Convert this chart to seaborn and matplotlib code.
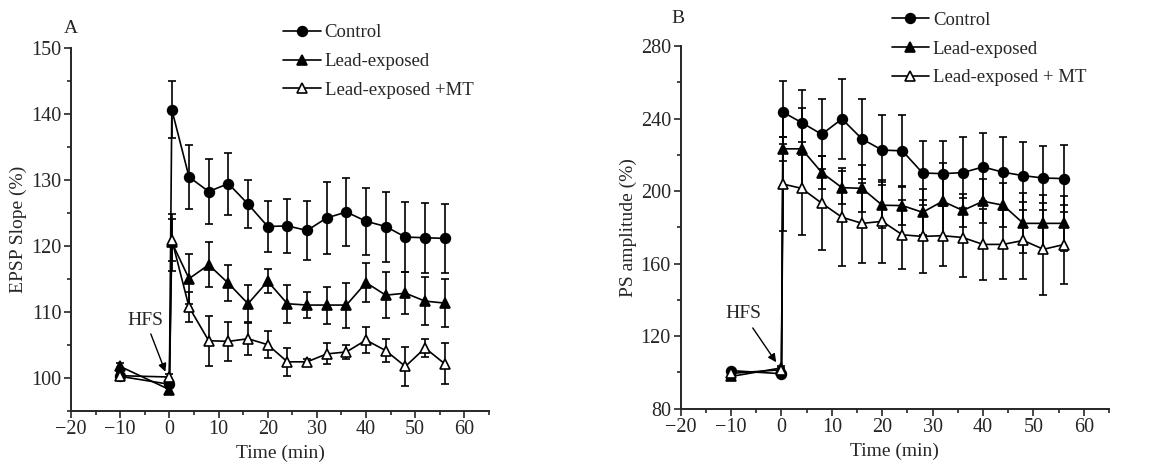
#import libraries
import numpy as np
import pandas as pd
import matplotlib
matplotlib.use("Agg")
import matplotlib.pyplot as plt
import seaborn as sns

#time points (min)
time_a = [-10, 0, 0.5, 4, 8, 12, 16, 20, 24, 28, 32, 36, 40, 44, 48, 52, 56]
time_b = [-10, 0, 0.3, 4, 8, 12, 16, 20, 24, 28, 32, 36, 40, 44, 48, 52, 56]

#panel A - EPSP slope (%)
ctrl_a = [100.2, 99.0, 140.6, 130.4, 128.2, 129.4, 126.3, 122.9, 123.0, 122.3, 124.2, 125.1, 123.7, 122.9, 121.3, 121.2, 121.1]
ctrl_a_err = [0.5, 0.5, 4.3, 4.8, 4.9, 4.7, 3.6, 3.8, 4.1, 4.4, 5.5, 5.2, 5.1, 5.3, 5.3, 5.3, 5.2]
lead_a = [101.7, 98.2, 120.5, 115.0, 117.1, 114.3, 111.2, 114.6, 111.2, 111.0, 111.0, 111.0, 114.4, 112.5, 112.8, 111.6, 111.3]
lead_a_err = [0.5, 0.5, 4.3, 3.8, 3.4, 2.7, 2.8, 1.8, 2.9, 2.0, 2.8, 3.4, 2.9, 3.5, 3.2, 3.6, 3.6]
mt_a = [100.3, 100.1, 120.9, 110.7, 105.6, 105.5, 105.9, 105.0, 102.4, 102.4, 103.6, 103.9, 105.7, 104.1, 101.7, 104.5, 102.1]
mt_a_err = [0.5, 0.5, 3.2, 2.3, 3.8, 2.9, 2.4, 2.0, 2.1, 0.5, 1.6, 1.0, 2.0, 1.7, 3.0, 1.4, 3.1]

#panel B - PS amplitude (%)
ctrl_b = [101.0, 99.3, 243.5, 237.8, 231.3, 239.8, 228.7, 222.6, 222.2, 210.0, 209.6, 210.2, 213.3, 210.4, 208.5, 207.2, 206.9]
ctrl_b_err = [1.0, 1.0, 17.4, 17.8, 19.3, 22.2, 21.9, 19.4, 19.8, 17.8, 18.0, 19.8, 18.6, 19.2, 18.7, 17.4, 18.5]
lead_b = [97.8, 102.5, 223.3, 223.3, 210.2, 201.9, 201.5, 192.2, 192.0, 188.3, 194.4, 189.3, 194.4, 192.2, 182.2, 182.2, 182.2]
lead_b_err = [1.0, 1.0, 6.7, 22.6, 9.2, 9.2, 13.0, 12.8, 10.8, 12.6, 21.3, 9.2, 12.0, 12.0, 16.5, 15.6, 15.0]
mt_b = [99.5, 101.5, 203.9, 201.5, 193.3, 185.6, 182.2, 183.3, 175.9, 175.0, 175.4, 174.4, 170.6, 170.6, 172.8, 167.9, 170.5]
mt_b_err = [1.0, 1.0, 25.8, 25.6, 26.0, 27.0, 22.0, 22.7, 19.0, 20.0, 16.7, 22.0, 19.4, 19.0, 21.4, 25.3, 21.9]

groups = ["Control", "Lead-exposed", "Lead-exposed +MT"]
groups_b = ["Control", "Lead-exposed", "Lead-exposed + MT"]

sns.set_style("ticks")
plt.rcParams['font.family'] = ['Liberation Serif', 'DejaVu Serif']

fig = plt.figure(figsize=(11.74, 4.67), dpi=100)
ax_a = fig.add_axes([0.0605, 0.1206, 0.356, 0.7774])
ax_b = fig.add_axes([0.5798, 0.1248, 0.3648, 0.7767])

styles = [dict(marker='o', mfc='black'),
          dict(marker='^', mfc='black'),
          dict(marker='^', mfc='white')]


def draw_panel(ax, t, series, errs, names, anchor):
    for vals, err, name, st in zip(series, errs, names, styles):
        d = pd.DataFrame({'time': t, 'value': vals})
        ax.errorbar(d['time'], d['value'], yerr=err, fmt='none', ecolor='black',
                    elinewidth=1.2, capsize=3, capthick=1.2, zorder=2)
        sns.lineplot(data=d, x='time', y='value', ax=ax, color='black', lw=1.2,
                     marker=st['marker'], markerfacecolor=st['mfc'],
                     markeredgecolor='black', markeredgewidth=1.2, markersize=7,
                     label=name, zorder=3, sort=False)
    ax.set_xlim(-20, 65)
    ax.set_xticks(range(-20, 61, 10))
    ax.set_xticks(range(-20, 66, 5), minor=True)
    ax.set_xticklabels(['\u221220', '\u221210', '0', '10', '20', '30', '40', '50', '60'])
    ax.set_xlabel('Time (min)', fontsize=14, labelpad=4)
    ax.tick_params(axis='both', which='major', labelsize=14.5, length=5, width=1.2,
                   direction='out', pad=2)
    ax.tick_params(axis='both', which='minor', length=3, width=1.2, direction='out')
    for s in ['left', 'bottom']:
        ax.spines[s].set_linewidth(1.4)
    sns.despine(ax=ax)
    ax.legend(loc='upper left', bbox_to_anchor=anchor, frameon=False,
              fontsize=13.5, handlelength=2.0, handletextpad=0.2,
              labelspacing=0.62, borderaxespad=0)


draw_panel(ax_a, time_a, [ctrl_a, lead_a, mt_a], [ctrl_a_err, lead_a_err, mt_a_err],
           groups, (0.49, 1.085))
ax_a.set_ylim(95, 150)
ax_a.set_yticks(range(100, 151, 10))
ax_a.set_yticks(range(95, 151, 5), minor=True)
ax_a.set_ylabel('EPSP Slope (%)', fontsize=14, labelpad=3)
ax_a.annotate('HFS', xy=(-0.7, 100.7), xytext=(-4.8, 108.6), fontsize=14,
              ha='center', va='center',
              arrowprops=dict(arrowstyle='-|>', color='black', lw=1.0, mutation_scale=12,
                              shrinkA=1, shrinkB=1))
fig.text(0.054, 0.93, 'A', fontsize=14)

draw_panel(ax_b, time_b, [ctrl_b, lead_b, mt_b], [ctrl_b_err, lead_b_err, mt_b_err],
           groups_b, (0.475, 1.115))
ax_b.set_ylim(80, 280)
ax_b.set_yticks(range(80, 281, 40))
ax_b.set_yticks(range(80, 281, 20), minor=True)
ax_b.set_ylabel('PS amplitude (%)', fontsize=14, labelpad=3)
ax_b.annotate('HFS', xy=(-0.9, 105), xytext=(-7.6, 132.3), fontsize=14,
              ha='center', va='center',
              arrowprops=dict(arrowstyle='-|>', color='black', lw=1.0, mutation_scale=12,
                              shrinkA=2, shrinkB=1))
fig.text(0.572, 0.95, 'B', fontsize=14)

fig.savefig('out.png', dpi=100)
